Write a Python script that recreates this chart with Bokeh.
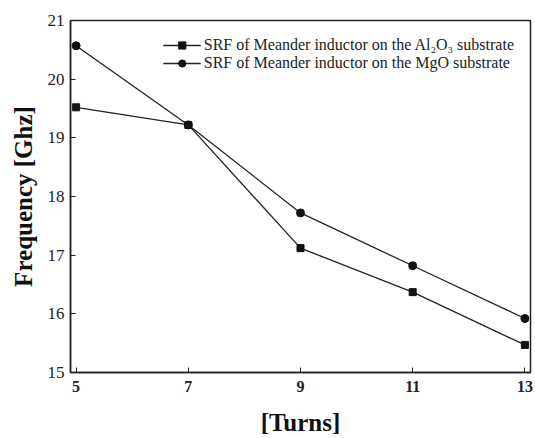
from bokeh.plotting import figure
from bokeh.embed import file_html
from bokeh.resources import INLINE
from bokeh.models import Legend, LegendItem, Range1d, FixedTicker

turns = [5, 7, 9, 11, 13]
srf_al2o3 = [19.52, 19.22, 17.12, 16.37, 15.47]
srf_mgo = [20.57, 19.22, 17.72, 16.82, 15.92]
x_ticks = [5, 7, 9, 11, 13]
y_ticks = [15, 16, 17, 18, 19, 20, 21]

FONT = "Liberation Serif"

p = figure(width=535, height=438, output_backend="svg", toolbar_location=None,
           x_range=Range1d(4.9, 13.1), y_range=Range1d(15, 21),
           min_border_left=70, min_border_right=5, min_border_top=20, min_border_bottom=58)
p.grid.visible = False
p.outline_line_color = "#222222"
p.outline_line_width = 1.5

r1 = p.line(turns, srf_al2o3, line_color="#222222", line_width=1.3)
s1 = p.scatter(turns, srf_al2o3, marker="square", size=7, fill_color="#111111", line_color="#111111")
r2 = p.line(turns, srf_mgo, line_color="#222222", line_width=1.3)
s2 = p.scatter(turns, srf_mgo, marker="circle", size=8, fill_color="#111111", line_color="#111111")

for ax in (p.xaxis[0], p.yaxis[0]):
    ax.major_tick_in = 5
    ax.major_tick_out = 0
    ax.minor_tick_in = 0
    ax.minor_tick_out = 0
    ax.axis_line_color = "#222222"
    ax.axis_line_width = 1.5
    ax.major_tick_line_color = "#222222"
    ax.major_label_text_font = FONT
    ax.major_label_text_color = "#222222"
    ax.axis_label_text_font = FONT
    ax.axis_label_text_font_style = "bold"
    ax.axis_label_text_font_size = "25px"
    ax.axis_label_text_color = "#111111"

p.xaxis.major_label_text_font_style = "bold"
p.xaxis.major_label_text_font_size = "16px"
p.yaxis.major_label_text_font_style = "normal"
p.yaxis.major_label_text_font_size = "17px"

p.xaxis.ticker = FixedTicker(ticks=x_ticks)
p.yaxis.ticker = FixedTicker(ticks=y_ticks)
p.xaxis.axis_label = "[Turns]"
p.yaxis.axis_label = "Frequency [Ghz]"
p.xaxis.major_label_standoff = 8
p.xaxis.axis_label_standoff = 14
p.yaxis.major_label_standoff = 6
p.yaxis.axis_label_standoff = 8

legend = Legend(items=[
    LegendItem(label="SRF of Meander inductor on the Al₂O₃ substrate", renderers=[r1, s1]),
    LegendItem(label="SRF of Meander inductor on the MgO substrate", renderers=[r2, s2]),
], location="top_right")
legend.border_line_color = None
legend.background_fill_alpha = 0
legend.label_text_font = FONT
legend.label_text_font_size = "16px"
legend.label_text_color = "#222222"
legend.glyph_width = 38
legend.label_standoff = 3
legend.spacing = 0
legend.label_height = 18
legend.glyph_height = 18
legend.margin = 16
legend.padding = 6
p.add_layout(legend)

open("out.html", "w").write(file_html(p, INLINE))
